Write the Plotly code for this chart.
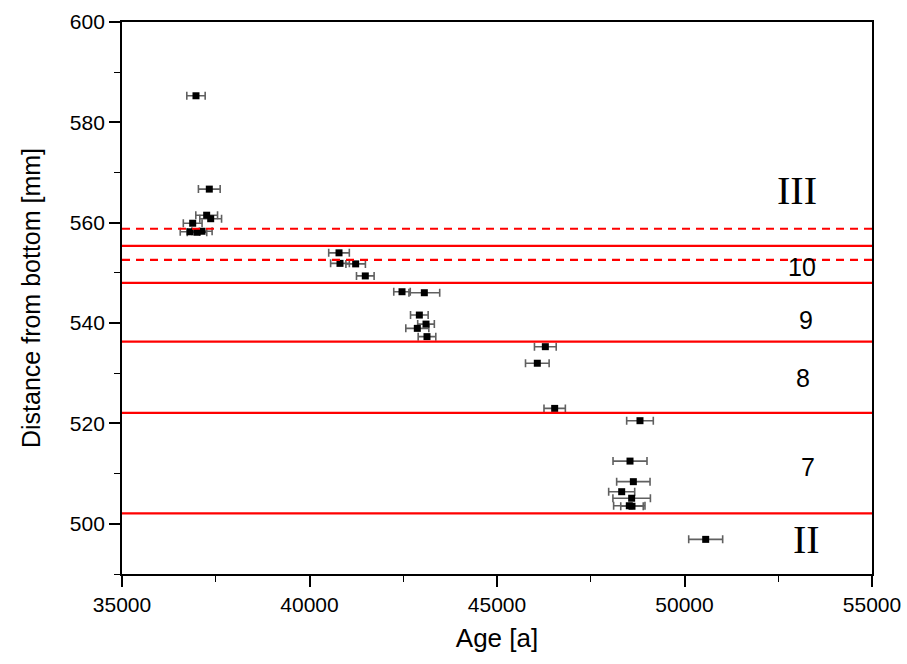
import plotly.graph_objects as go

# ---- data ----
ages = [36973, 37328, 37258, 37365, 36885, 36813, 37000, 37133,
        40787, 40813, 41231, 41488, 42467, 43062, 42929, 43107, 42875, 43133,
        46289, 46075, 46538, 48813,
        48547, 48636, 48325, 48591, 48528, 48600, 50565]
depth = [585.3, 566.7, 561.5, 560.8, 559.9, 558.2, 558.1, 558.3,
         554.0, 551.9, 551.8, 549.4, 546.25, 546.05, 541.6, 539.8, 538.95, 537.3,
         535.3, 532.0, 523.0, 520.55,
         512.5, 508.4, 506.4, 505.1, 503.6, 503.5, 496.9]
age_err = [245, 290, 290, 290, 250, 260, 260, 270,
           275, 250, 260, 235, 220, 410, 235, 222, 307, 235,
           290, 315, 285, 355,
           453, 445, 347, 500, 418, 300, 453]

solid_lines = [555.4, 548.0, 536.3, 522.1, 502.1]
dashed_lines = [558.8, 552.6]

zone_labels = ["III", "10", "9", "8", "7", "II"]
zone_x = [53008, 53125, 53240, 53168, 53301, 53240]
zone_y = [566.4, 551.1, 540.6, 529.0, 511.3, 496.8]
zone_serif = [True, False, False, False, False, True]

fig = go.Figure()

fig.add_trace(go.Scatter(
    x=ages, y=depth, mode="markers",
    marker=dict(symbol="square", size=7, color="black"),
    error_x=dict(type="data", array=age_err, visible=True,
                 color="#606060", thickness=1.6, width=4),
    showlegend=False,
))

shapes = []
for v in solid_lines:
    shapes.append(dict(type="line", xref="x domain", yref="y", x0=0, x1=1, y0=v, y1=v,
                       line=dict(color="#ff0000", width=2.2)))
for v in dashed_lines:
    shapes.append(dict(type="line", xref="x domain", yref="y", x0=0, x1=1, y0=v, y1=v,
                       line=dict(color="#ff0000", width=2.2, dash="8px,6px")))
fig.update_layout(shapes=shapes)

for lab, xx, yy, serif in zip(zone_labels, zone_x, zone_y, zone_serif):
    fig.add_annotation(
        x=xx, y=yy, text=lab, showarrow=False, xref="x", yref="y",
        font=dict(family="Liberation Serif, Times New Roman, serif" if serif else "Arial, Liberation Sans, sans-serif",
                  size=40 if serif else 25, color="black"),
    )

axis_common = dict(
    showline=True, linecolor="black", linewidth=1.8, mirror=True,
    showgrid=False, zeroline=False, automargin=False,
    ticks="outside", ticklen=11, tickwidth=1.6, tickcolor="black",
    tickfont=dict(family="Arial, Liberation Sans, sans-serif", size=21, color="black"),
)

fig.update_xaxes(
    range=[35000, 55000], tickmode="linear", tick0=35000, dtick=5000,
    minor=dict(dtick=2500, ticks="outside", ticklen=6, tickwidth=1.2, tickcolor="black"),
    title=dict(text="Age [a]", font=dict(family="Arial, Liberation Sans, sans-serif", size=26, color="black"),
               standoff=14),
    tickformat="d",
    **axis_common,
)
fig.update_yaxes(
    range=[490, 600], tickmode="linear", tick0=500, dtick=20,
    minor=dict(dtick=10, ticks="outside", ticklen=6, tickwidth=1.2, tickcolor="black"),
    title=dict(text="Distance from bottom [mm]", font=dict(family="Arial, Liberation Sans, sans-serif", size=25, color="black"),
               standoff=22),
    **axis_common,
)

fig.update_layout(
    width=907, height=664,
    margin=dict(l=122, r=35, t=22, b=90),
    paper_bgcolor="white", plot_bgcolor="white",
)

fig.write_html("out.html")
